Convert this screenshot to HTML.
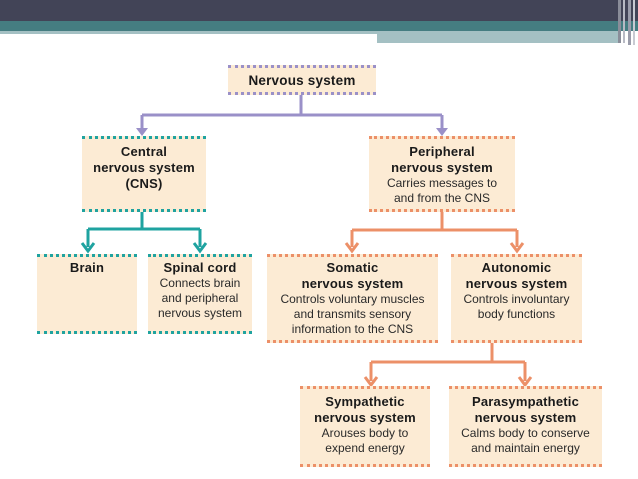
<!DOCTYPE html>
<html><head><style>
body{margin:0;width:638px;height:479px;background:#fff;position:relative;overflow:hidden;font-family:"Liberation Sans",sans-serif;}
.b{position:absolute;background:#fcebd4;box-sizing:border-box;text-align:center;font-size:12px;line-height:15px;color:#2a2a2a;padding-top:4px;}
.b b{font-size:13px;color:#1a1a1a;letter-spacing:0.2px;}
.p{border-top:3px dotted #9a90c8;border-bottom:3px dotted #9a90c8;}
.t{border-top:3px dotted #1fa3a0;border-bottom:3px dotted #1fa3a0;}
.o{border-top:3px dotted #ec9068;border-bottom:3px dotted #ec9068;}
</style></head><body>
<div style="position:absolute;left:0;top:0;width:638px;height:21px;background:#424457"></div>
<div style="position:absolute;left:0;top:21px;width:638px;height:10px;background:#457d81"></div>
<div style="position:absolute;left:0;top:31px;width:620px;height:3px;background:#a4c0c3"></div>
<div style="position:absolute;left:377px;top:31px;width:243px;height:12px;background:#a4c0c3"></div>
<div style="position:absolute;left:618px;top:0;width:3px;height:43px;background:#8a8d99"></div>
<div style="position:absolute;left:623px;top:0;width:2px;height:43px;background:#b8bac4"></div>
<div style="position:absolute;left:628px;top:0;width:3px;height:45px;background:#9a9caa"></div>
<div style="position:absolute;left:633px;top:0;width:2px;height:45px;background:#c8cad2"></div>

<svg width="638" height="479" style="position:absolute;left:0;top:0">
<g stroke="#9a90c8" stroke-width="3" fill="none">
<path d="M301 93V115M142 115H442M142 115V132M442 115V132"/>
</g>
<path d="M136 128L142 136L148 128Z M436 128L442 136L448 128Z" fill="#9a90c8"/>
<g stroke="#1fa3a0" stroke-width="3" fill="none">
<path d="M142 210V229M88 229H200M88 229V247M200 229V247"/>
<path d="M82 243L88 251L94 243M194 243L200 251L206 243"/>
</g>
<g stroke="#ec9068" stroke-width="3" fill="none">
<path d="M442 210V230M352 230H517M352 230V247M517 230V247"/>
<path d="M346 243L352 251L358 243M511 243L517 251L523 243"/>
<path d="M492 342V362M371 362H525M371 362V381M525 362V381"/>
<path d="M365 377L371 385L377 377M519 377L525 385L531 377"/>
</g>
</svg>

<div class="b p" style="left:228px;top:65px;width:148px;height:30px;padding-top:5px"><b style="font-size:13.5px">Nervous system</b></div>
<div class="b t" style="left:82px;top:136px;width:124px;height:76px;padding-top:5px"><b>Central<br>nervous system<br>(CNS)</b></div>
<div class="b o" style="left:369px;top:136px;width:146px;height:76px;padding-top:5px"><b>Peripheral<br>nervous system</b><br>Carries messages to<br>and from the CNS</div>
<div class="b t" style="left:37px;top:254px;width:100px;height:80px;padding-top:3px"><b>Brain</b></div>
<div class="b t" style="left:148px;top:254px;width:104px;height:80px;padding-top:3px"><b>Spinal cord</b><br>Connects brain<br>and peripheral<br>nervous system</div>
<div class="b o" style="left:267px;top:254px;width:171px;height:89px;padding-top:3px"><b>Somatic<br>nervous system</b><br>Controls voluntary muscles<br>and transmits sensory<br>information to the CNS</div>
<div class="b o" style="left:451px;top:254px;width:131px;height:89px;padding-top:3px"><b>Autonomic<br>nervous system</b><br>Controls involuntary<br>body functions</div>
<div class="b o" style="left:300px;top:386px;width:130px;height:81px;padding-top:5px"><b>Sympathetic<br>nervous system</b><br>Arouses body to<br>expend energy</div>
<div class="b o" style="left:449px;top:386px;width:153px;height:81px;padding-top:5px"><b>Parasympathetic<br>nervous system</b><br>Calms body to conserve<br>and maintain energy</div>
</body></html>
